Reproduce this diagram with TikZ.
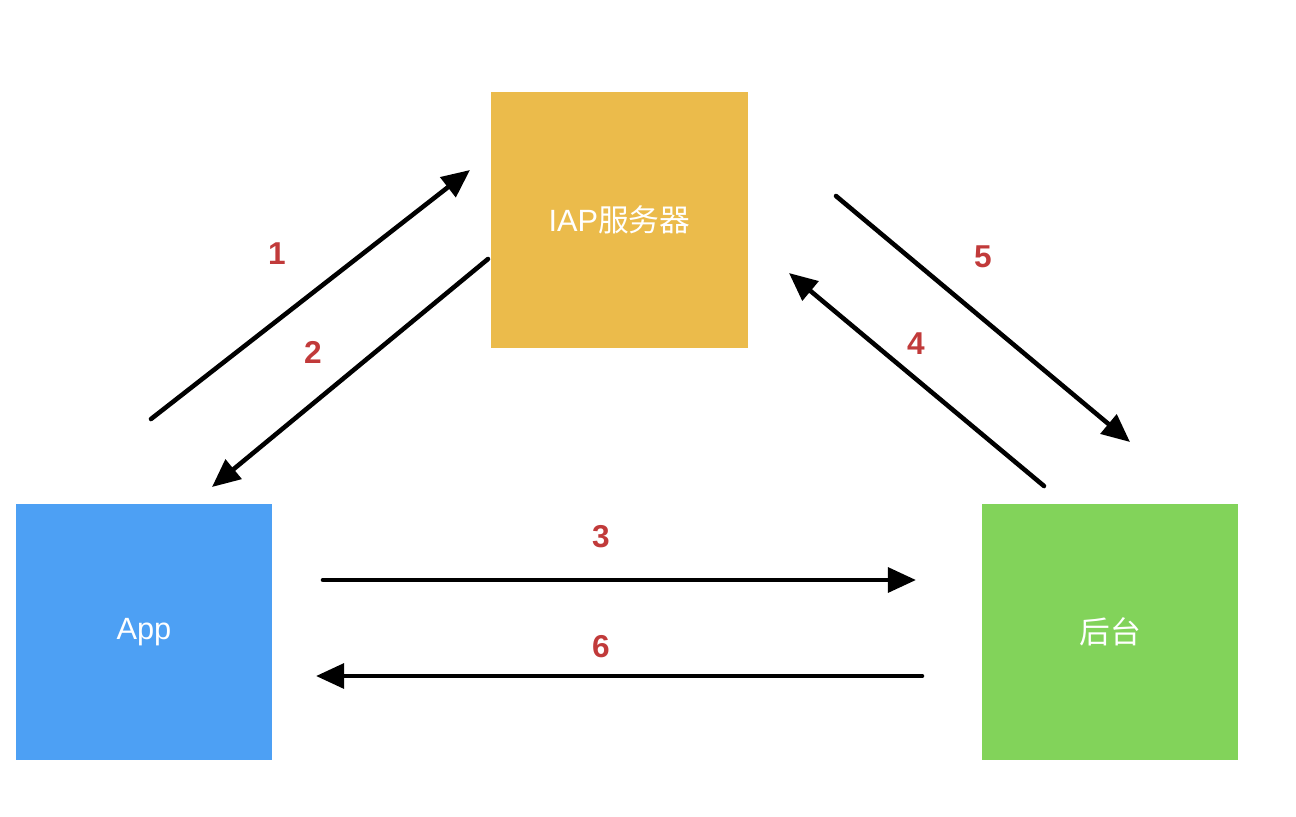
\documentclass[tikz,border=0pt]{standalone}
\usepackage{fontspec}
\setmainfont{Liberation Sans}
\newfontfamily\cjk{Noto Sans CJK SC}
\usetikzlibrary{arrows.meta}
\definecolor{iapcol}{HTML}{EBBB4B}
\definecolor{appcol}{HTML}{4DA0F4}
\definecolor{srvcol}{HTML}{82D35A}
\definecolor{numcol}{HTML}{C13A3A}
\begin{document}
\begin{tikzpicture}[x=0.02cm, y=-0.02cm, line cap=round, >={Triangle[length=16pt,width=14pt]}]
	\tikzset{box/.style={minimum size=5.14cm, inner sep=0pt, text=white, font=\fontsize{17.5}{20}\selectfont},
		flow/.style={->, line width=2.6pt},
		num/.style={text=numcol, font=\bfseries\fontsize{18}{20}\selectfont}}
	\useasboundingbox (0,0) rectangle (1296,816);
	% boxes
	\node[box, fill=iapcol] (iap) at (619.5,220) {IAP{\cjk 服务器}};
	\node[box, fill=appcol] (app) at (144,632) {App};
	\node[box, fill=srvcol] (srv) at (1110,632) {\cjk 后台};
	% arrow ends
	\coordinate (a1) at (151,419); \coordinate (b1) at (470,170);
	\coordinate (a2) at (488,259); \coordinate (b2) at (212,487);
	\coordinate (a3) at (323,580); \coordinate (b3) at (916,580);
	\coordinate (a4) at (1044,486); \coordinate (b4) at (789,273);
	\coordinate (a5) at (836,196); \coordinate (b5) at (1130,442);
	\coordinate (a6) at (922,676); \coordinate (b6) at (316,676);
	\foreach \i in {1,...,6} \draw[flow] (a\i)--(b\i);
	% numbers
	\node[num] (n1) at (277,254) {1};
	\node[num] (n2) at (313,352) {2};
	\node[num] (n3) at (601,537) {3};
	\node[num] (n4) at (916,344) {4};
	\node[num] (n5) at (983,257) {5};
	\node[num] (n6) at (601,647) {6};
\end{tikzpicture}
\end{document}
